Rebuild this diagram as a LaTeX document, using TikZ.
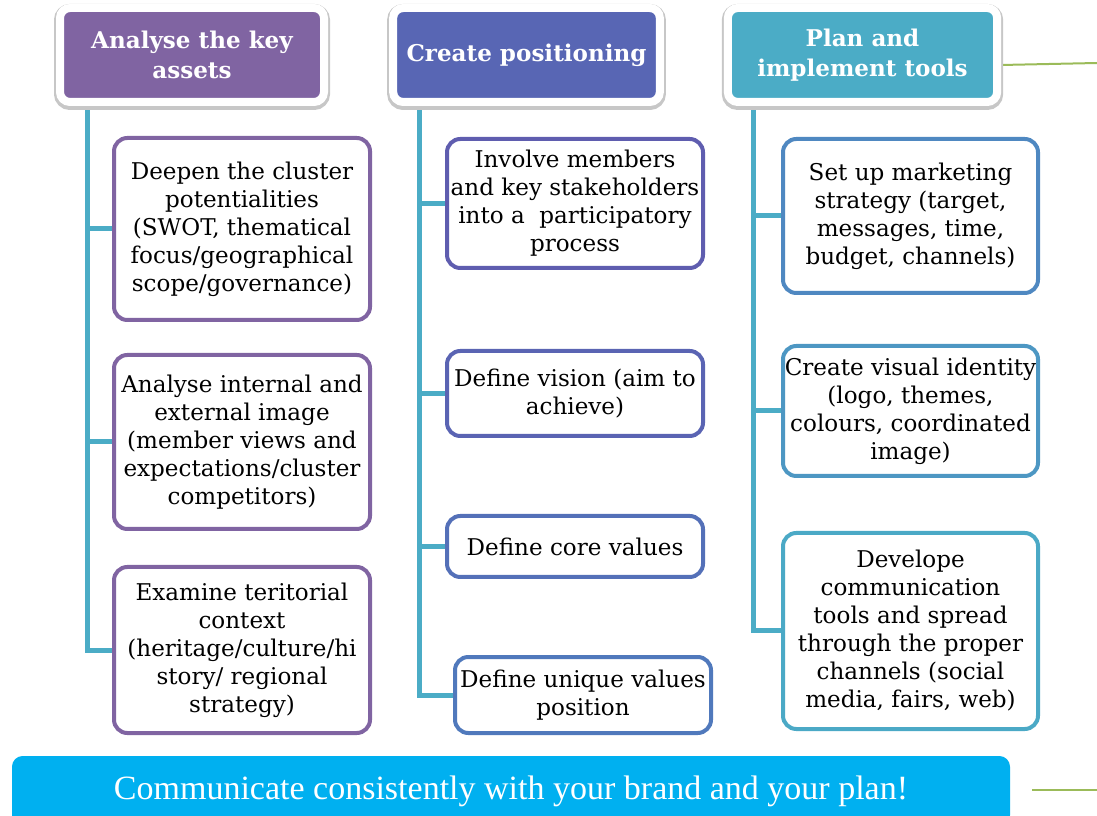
\documentclass[tikz,border=0pt]{standalone}
\usepackage{fontspec}
\setmainfont{DejaVu Serif}
\newfontfamily\bannerfont{Liberation Serif}
\usepackage{tikz}
\usetikzlibrary{positioning}

\definecolor{hdrA}{HTML}{8064A2}
\definecolor{hdrB}{HTML}{5866B4}
\definecolor{hdrC}{HTML}{4BACC6}
\definecolor{brdB1}{HTML}{5F5DAF}
\definecolor{brdB2}{HTML}{5A64B3}
\definecolor{brdB3}{HTML}{5470B8}
\definecolor{brdB4}{HTML}{5079BC}
\definecolor{brdC1}{HTML}{4F88C1}
\definecolor{brdC2}{HTML}{4D97C3}
\definecolor{brdC3}{HTML}{4BA9C6}
\definecolor{linkc}{HTML}{4BACC6}
\definecolor{greenc}{HTML}{9BBB59}
\definecolor{bannerc}{HTML}{00B0F0}

\pgfdeclarelayer{bg}
\pgfsetlayers{bg,main}

\begin{document}
\begin{tikzpicture}[x=0.75pt, y=-0.75pt,
  head/.style={draw=white, line width=6pt, rounded corners=7.5pt, align=center,
    text=white, font=\fontsize{17.3}{22.5}\selectfont\bfseries,
    minimum height=70.5pt, inner sep=2pt,
    preaction={draw=black!22, line width=9pt, transform canvas={yshift=-1.5pt}}},
  item/.style={draw, fill=white, line width=3pt, rounded corners=10pt, align=center,
    font=\fontsize{17.3}{21}\selectfont, inner sep=1pt, minimum width=192pt},
  link/.style={draw=linkc, line width=3.75pt},
  lead/.style={draw=greenc, line width=1.5pt}]
\useasboundingbox (0,0) rectangle (1097,816);

% column heads
\node[head, fill=hdrA, minimum width=198pt] (h1) at (192,55)   {Analyse the key\\assets};
\node[head, fill=hdrB, minimum width=200pt] (h2) at (526.5,55) {Create positioning};
\node[head, fill=hdrC, minimum width=202pt] (h3) at (862.5,55) {Plan and\\implement tools};

% first column
\node[item, draw=hdrA, minimum height=136.5pt] (b11) at (242,229)
  {Deepen the cluster\\potentialities\\(SWOT, thematical\\focus/geographical\\scope/governance)};
\node[item, draw=hdrA, minimum height=130.5pt] (b12) at (242,442)
  {Analyse internal and\\external image\\(member views and\\expectations/cluster\\competitors)};
\node[item, draw=hdrA, minimum height=124.5pt] (b13) at (242,650)
  {Examine teritorial\\context\\(heritage/culture/hi\\story/ regional\\strategy)};

% second column
\node[item, draw=brdB1, minimum height=96.75pt] (b21) at (575,203.5)
  {Involve members\\and key stakeholders\\into a~ participatory\\process};
\node[item, draw=brdB2, minimum height=63.75pt] (b22) at (575,393.5)
  {Define vision (aim to\\achieve)};
\node[item, draw=brdB3, minimum height=45.75pt] (b23) at (575,546.5)
  {Define core values};
\node[item, draw=brdB4, minimum height=57pt] (b24) at (583,695)
  {Define unique values\\position};

% third column
\node[item, draw=brdC1, minimum width=191.25pt, minimum height=115.5pt] (b31) at (910.5,216)
  {Set up marketing\\strategy (target,\\messages, time,\\budget, channels)};
\node[item, draw=brdC2, minimum width=191.25pt, minimum height=97.5pt] (b32) at (910.5,411)
  {Create visual identity\\(logo, themes,\\colours, coordinated\\image)};
\node[item, draw=brdC3, minimum width=191.25pt, minimum height=147pt] (b33) at (910.5,631)
  {Develope\\communication\\tools and spread\\through the proper\\channels (social\\media, fairs, web)};

% bottom banner
\node[fill=bannerc, rounded corners=8pt, minimum width=748.5pt, minimum height=52.5pt,
  text=white, font=\bannerfont\fontsize{25.5}{28}\selectfont] (banner) at (511,791)
  {Communicate consistently with your brand and your plan!};

\coordinate (s1) at ([xshift=23.25pt]h1.south west);
\coordinate (s2) at ([xshift=22.5pt]h2.south west);
\coordinate (s3) at ([xshift=22.5pt]h3.south west);
\coordinate (g1) at (1097,63);
\coordinate (g2) at (1032,790);
\coordinate (g3) at (1097,790);

\begin{pgfonlayer}{bg}
\draw[link] (s1) |- (b13.west);
\draw[link] (s1 |- b11.west) -- (b11.west);
\draw[link] (s1 |- b12.west) -- (b12.west);

\draw[link] (s2) |- (b24.west);
\draw[link] (s2 |- b21.west) -- (b21.west);
\draw[link] (s2 |- b22.west) -- (b22.west);
\draw[link] (s2 |- b23.west) -- (b23.west);

\draw[link] (s3) |- (b33.west);
\draw[link] (s3 |- b31.west) -- (b31.west);
\draw[link] (s3 |- b32.west) -- (b32.west);

\draw[lead] ([yshift=-7.5pt]h3.east) -- (g1);
\draw[lead] (g2) -- (g3);
\end{pgfonlayer}
\end{tikzpicture}
\end{document}
